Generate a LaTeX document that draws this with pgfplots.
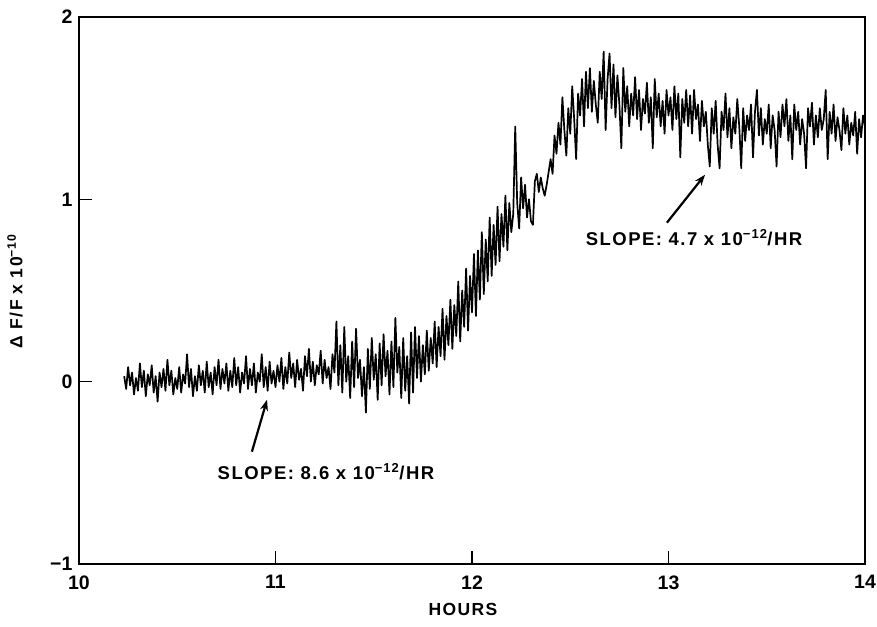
\documentclass[border=0pt]{standalone}
\usepackage{fontspec}
\setmainfont{Liberation Sans}
\newfontfamily\widefont[LetterSpace=8]{Liberation Sans}
\usepackage{pgfplots}
\pgfplotsset{compat=1.18}
\usetikzlibrary{arrows.meta}
\begin{document}
\begin{tikzpicture}
\begin{axis}[
  scale only axis, width=786pt, height=547pt,
  xmin=10, xmax=14, ymin=-1, ymax=2,
  xtick={10,11,12,13,14}, ytick={-1,0,1,2},
  xticklabels={10,11,12,13,14}, yticklabels={−1,0,1,2},
  xtick pos=left, ytick pos=left,
  tick align=inside,
  major tick length=13pt,
  every tick/.style={black, line width=1.6pt},
  axis line style={line width=2pt},
  ticklabel style={font=\fontsize{19.5}{22}\selectfont\bfseries},
  xticklabel style={yshift=-8pt},
  yticklabel style={xshift=-3pt},
  xlabel={HOURS},
  xlabel style={at={(axis description cs:0.4885,-0.084)}, anchor=center,
    font=\fontsize{17.5}{20}\selectfont\bfseries\widefont},
  ylabel={Δ F/F x 10\textsuperscript{−10}},
  ylabel style={at={(axis description cs:-0.0814,0.499)}, anchor=center,
    font=\fontsize{17.5}{20}\selectfont\bfseries\widefont},
  clip=true,
]
% recorded fractional frequency deviation
\addplot[black, line width=1.7pt, line join=round] coordinates {
(10.23,0.03)(10.24,-0.04)(10.25,0.08)(10.26,-0.02)(10.27,0.05)(10.28,-0.07)(10.29,0.02)(10.30,-0.05)
(10.31,0.10)(10.32,-0.03)(10.33,0.06)(10.34,-0.08)(10.35,0.04)(10.36,-0.02)(10.37,0.09)(10.38,-0.06)
(10.39,0.03)(10.40,-0.11)(10.41,0.05)(10.42,-0.03)(10.43,0.07)(10.44,-0.05)(10.45,0.12)(10.46,-0.02)
(10.47,0.06)(10.48,-0.07)(10.49,0.02)(10.50,-0.04)(10.51,0.08)(10.52,-0.06)(10.53,0.04)(10.54,-0.01)
(10.55,0.15)(10.56,-0.03)(10.57,0.07)(10.58,-0.08)(10.59,0.03)(10.60,-0.05)(10.61,0.09)(10.62,-0.02)
(10.63,0.06)(10.64,-0.06)(10.65,0.11)(10.66,-0.03)(10.67,0.05)(10.68,-0.07)(10.69,0.08)(10.70,-0.02)
(10.71,0.12)(10.72,-0.04)(10.73,0.07)(10.74,-0.01)(10.75,0.10)(10.76,-0.05)(10.77,0.06)(10.78,-0.03)
(10.79,0.13)(10.80,-0.02)(10.81,0.08)(10.82,-0.06)(10.83,0.05)(10.84,-0.01)(10.85,0.14)(10.86,-0.04)
(10.87,0.07)(10.88,-0.02)(10.89,0.10)(10.90,-0.06)(10.91,0.05)(10.92,0.00)(10.93,0.15)(10.94,-0.03)
(10.95,0.08)(10.96,-0.05)(10.97,0.11)(10.98,-0.01)(10.99,0.06)
(11.00,-0.03)(11.01,0.09)(11.02,0.00)(11.03,0.13)(11.04,-0.04)(11.05,0.08)(11.06,-0.01)(11.07,0.16)
(11.08,0.02)(11.09,0.10)(11.10,-0.03)(11.11,0.12)(11.12,0.01)(11.13,0.07)(11.14,-0.05)(11.15,0.14)
(11.16,0.03)(11.17,0.18)(11.18,0.00)(11.19,0.11)(11.20,-0.02)(11.21,0.09)(11.22,0.04)(11.23,0.17)
(11.24,-0.01)(11.25,0.12)(11.26,0.02)(11.27,0.08)(11.28,-0.04)(11.29,0.15)
(11.30,0.05)(11.31,0.33)(11.32,-0.02)(11.33,0.20)(11.34,-0.06)(11.35,0.30)(11.36,0.00)(11.37,0.14)
(11.38,-0.09)(11.39,0.22)(11.40,-0.03)(11.41,0.29)(11.42,0.02)(11.43,0.12)(11.44,-0.08)(11.45,0.08)
(11.46,-0.17)(11.47,0.18)(11.48,-0.04)(11.49,0.24)(11.50,0.01)(11.51,0.15)(11.52,-0.10)(11.53,0.21)
(11.54,-0.02)(11.55,0.26)(11.56,0.03)(11.57,0.17)(11.58,-0.07)(11.59,0.22)(11.60,-0.03)(11.61,0.35)
(11.62,0.05)(11.63,0.19)(11.64,-0.09)(11.65,0.24)(11.66,-0.05)(11.67,0.14)(11.68,-0.12)(11.69,0.27)
(11.70,-0.06)(11.71,0.30)(11.72,0.02)
(11.73,0.25)(11.74,0.00)(11.75,0.20)(11.76,0.04)(11.77,0.28)(11.78,0.06)(11.79,0.24)(11.80,0.10)
(11.81,0.33)(11.82,0.08)(11.83,0.30)(11.84,0.14)(11.85,0.40)(11.86,0.12)(11.87,0.36)(11.88,0.20)
(11.89,0.45)(11.90,0.18)(11.91,0.42)(11.92,0.25)(11.93,0.55)(11.94,0.22)(11.95,0.50)(11.96,0.30)
(11.97,0.62)(11.98,0.28)(11.99,0.58)(12.00,0.38)(12.01,0.70)(12.02,0.36)(12.03,0.72)(12.04,0.45)
(12.05,0.82)(12.06,0.48)(12.07,0.78)(12.08,0.55)(12.09,0.90)(12.10,0.58)(12.11,0.86)(12.12,0.64)
(12.13,0.96)(12.14,0.66)(12.15,0.92)(12.16,0.74)(12.17,1.02)(12.18,0.72)(12.19,0.98)(12.20,0.82)
(12.21,0.92)
(12.22,1.40)(12.23,0.98)(12.24,0.84)(12.25,1.12)(12.26,0.95)(12.27,1.08)(12.28,0.90)(12.29,1.00)
(12.30,0.88)(12.31,0.86)(12.32,1.10)(12.33,1.14)(12.34,1.04)(12.35,1.12)(12.36,1.06)(12.37,1.02)
(12.38,1.08)(12.39,1.15)
(12.40,1.22)(12.41,1.14)(12.42,1.35)(12.43,1.25)(12.44,1.42)(12.45,1.30)(12.46,1.56)(12.47,1.38)
(12.48,1.24)(12.49,1.50)(12.50,1.36)(12.51,1.62)(12.52,1.44)(12.53,1.22)(12.54,1.58)(12.55,1.46)
(12.56,1.66)(12.57,1.40)(12.58,1.70)(12.59,1.50)(12.60,1.72)(12.61,1.48)(12.62,1.65)(12.63,1.52)
(12.64,1.42)(12.65,1.70)(12.66,1.55)(12.67,1.81)(12.68,1.38)(12.69,1.66)(12.70,1.80)(12.71,1.50)
(12.72,1.74)(12.73,1.45)(12.74,1.68)(12.75,1.52)(12.76,1.28)(12.77,1.72)(12.78,1.48)(12.79,1.62)
(12.80,1.40)(12.81,1.58)(12.82,1.46)(12.83,1.67)(12.84,1.44)(12.85,1.60)(12.86,1.38)(12.87,1.55)
(12.88,1.47)(12.89,1.64)(12.90,1.42)(12.91,1.56)(12.92,1.28)(12.93,1.66)(12.94,1.45)(12.95,1.58)
(12.96,1.40)(12.97,1.54)(12.98,1.36)(12.99,1.60)(13.00,1.46)(13.01,1.56)(13.02,1.38)(13.03,1.62)
(13.04,1.44)(13.05,1.58)(13.06,1.23)(13.07,1.55)(13.08,1.42)(13.09,1.60)(13.10,1.40)(13.11,1.57)
(13.12,1.36)(13.13,1.60)(13.14,1.44)(13.15,1.52)(13.16,1.32)(13.17,1.54)(13.18,1.40)(13.19,1.48)
(13.20,1.30)(13.21,1.18)(13.22,1.50)
(13.23,1.36)(13.24,1.54)(13.25,1.30)(13.26,1.17)(13.27,1.48)(13.28,1.38)(13.29,1.58)(13.30,1.34)
(13.31,1.50)(13.32,1.28)(13.33,1.45)(13.34,1.36)(13.35,1.55)(13.36,1.40)(13.37,1.17)(13.38,1.50)
(13.39,1.32)(13.40,1.46)(13.41,1.38)(13.42,1.52)(13.43,1.23)(13.44,1.48)(13.45,1.60)(13.46,1.35)
(13.47,1.50)(13.48,1.30)(13.49,1.44)(13.50,1.36)(13.51,1.52)(13.52,1.28)(13.53,1.46)(13.54,1.38)
(13.55,1.18)(13.56,1.48)(13.57,1.34)(13.58,1.52)(13.59,1.40)(13.60,1.55)(13.61,1.32)(13.62,1.46)
(13.63,1.22)(13.64,1.52)(13.65,1.38)(13.66,1.48)(13.67,1.30)(13.68,1.44)(13.69,1.36)(13.70,1.17)
(13.71,1.50)(13.72,1.40)(13.73,1.53)(13.74,1.30)(13.75,1.46)(13.76,1.34)(13.77,1.50)(13.78,1.38)
(13.79,1.44)(13.80,1.60)(13.81,1.22)(13.82,1.48)(13.83,1.36)(13.84,1.52)(13.85,1.32)(13.86,1.45)
(13.87,1.38)(13.88,1.27)(13.89,1.50)(13.90,1.36)(13.91,1.46)(13.92,1.30)(13.93,1.42)(13.94,1.35)
(13.95,1.48)(13.96,1.25)(13.97,1.44)(13.98,1.34)(13.99,1.46)(14.00,1.40)
};
% slope annotations
\draw[black, line width=2.2pt, -{Stealth[length=11pt,width=8pt]}]
  (axis cs:10.88,-0.384) -- (axis cs:10.957,-0.099);
\node[font=\fontsize{18.5}{22}\selectfont\bfseries\widefont] at (axis cs:11.257,-0.494)
  {SLOPE: 8.6 x 10\textsuperscript{−12}/HR};
\draw[black, line width=2.2pt, -{Stealth[length=11pt,width=8pt]}]
  (axis cs:12.992,0.872) -- (axis cs:13.186,1.135);
\node[font=\fontsize{18.5}{22}\selectfont\bfseries\widefont] at (axis cs:13.13,0.79)
  {SLOPE: 4.7 x 10\textsuperscript{−12}/HR};
\coordinate (bl) at (rel axis cs:0,0);
\coordinate (tr) at (rel axis cs:1,1);
\end{axis}
\pgfresetboundingbox
\path ([shift={(-79pt,-63pt)}]bl) rectangle ([shift={(12pt,17pt)}]tr);
\end{tikzpicture}
\end{document}
